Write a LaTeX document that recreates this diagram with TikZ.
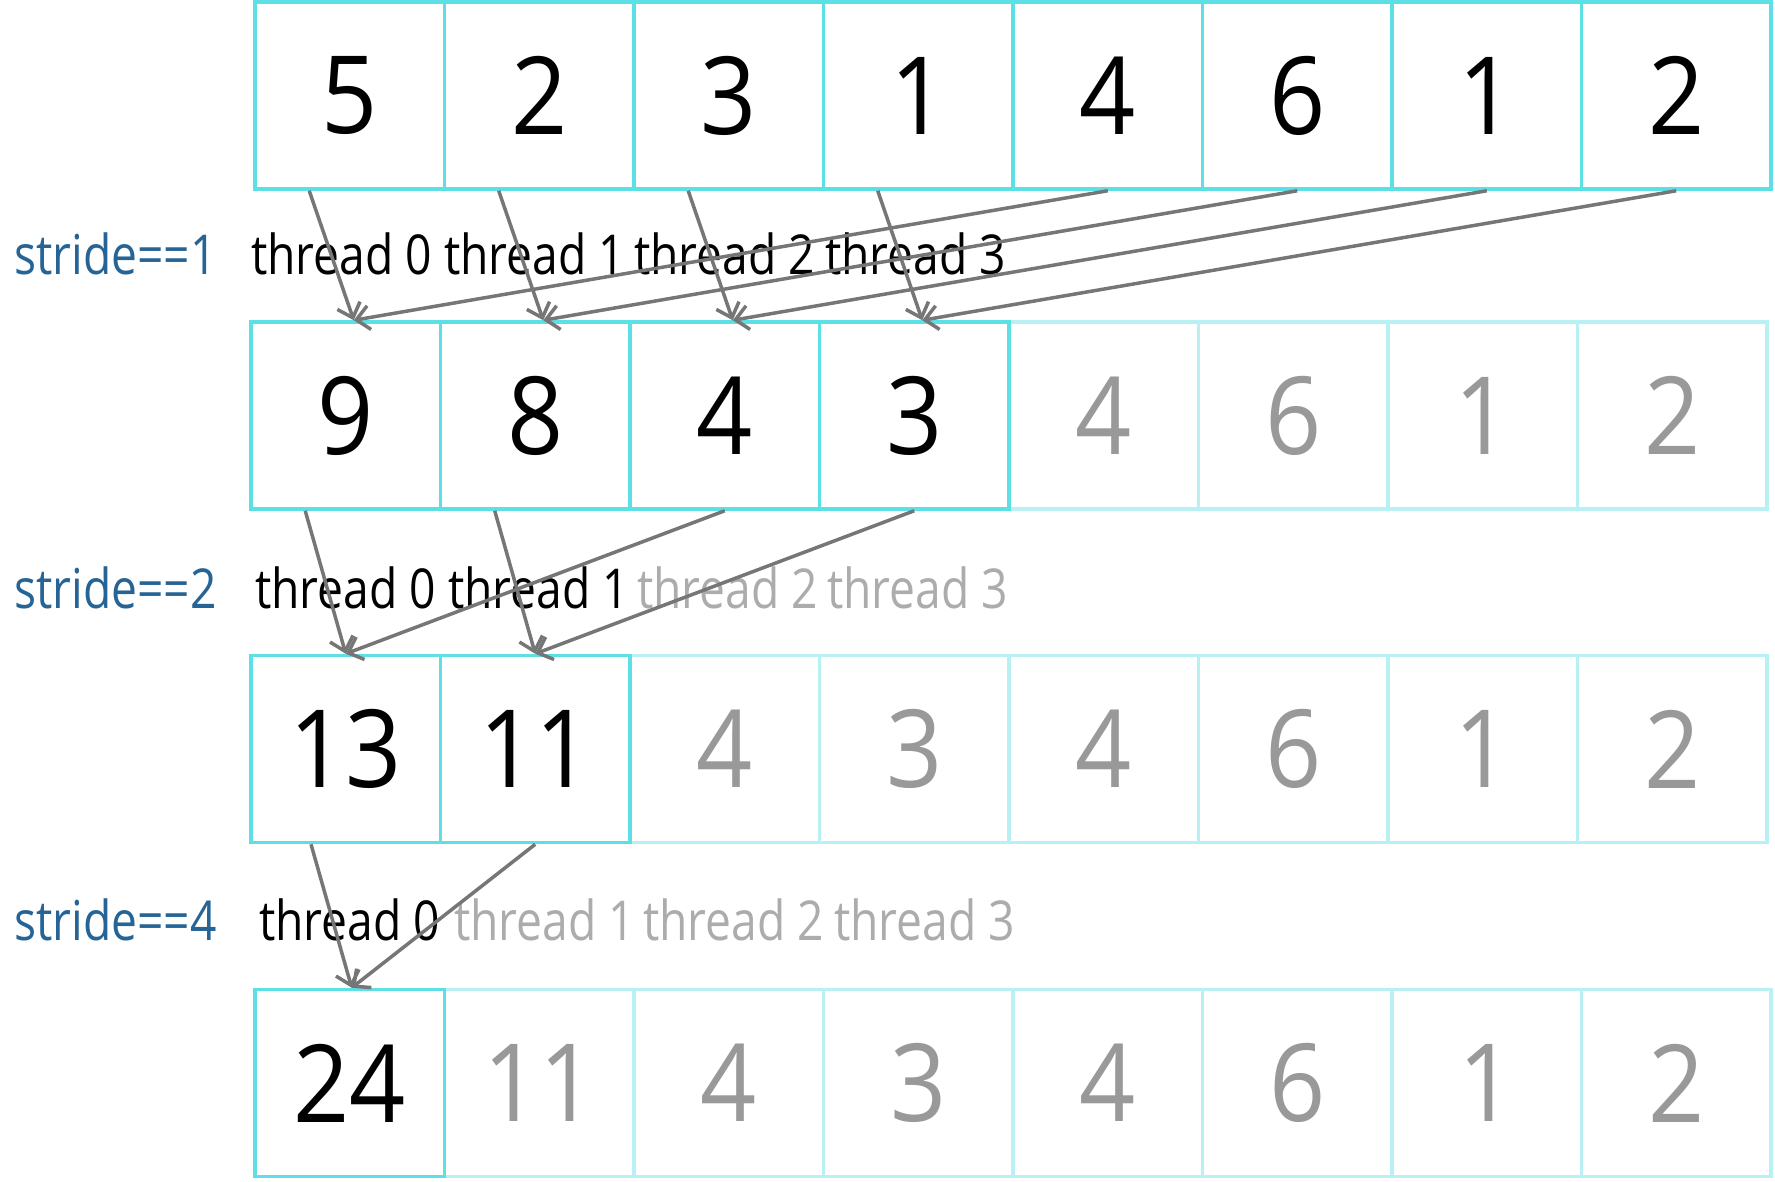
\documentclass[tikz,border=0pt]{standalone}
\usepackage{fontspec}
\setmainfont{Open Sans}
\newfontfamily\labfont[FakeStretch=0.84]{Open Sans}
\newfontfamily\digfont[FakeStretch=0.91]{Open Sans}
\usetikzlibrary{arrows.meta,calc}
\definecolor{cyanA}{RGB}{92,224,230}
\definecolor{cyanB}{RGB}{184,241,243}
\definecolor{strideblue}{RGB}{38,100,150}
\definecolor{arrowgray}{RGB}{118,118,118}
\definecolor{digitgray}{RGB}{153,153,153}
\definecolor{labgray}{RGB}{172,172,172}
\begin{document}
\begin{tikzpicture}[x=1pt,y=-1pt,
  cell/.style={draw, line width=3.5pt, minimum width=189.5pt, minimum height=187pt, inner sep=0pt,
    font=\digfont\fontsize{108}{108}\selectfont},
  on/.style={cell, draw=cyanA, text=black},
  off/.style={cell, draw=cyanB, text=digitgray},
  stridelab/.style={anchor=base west, inner sep=0pt, text=strideblue, font=\labfont\fontsize{55}{55}\selectfont},
  thr/.style={anchor=base west, inner sep=0pt, text=black, font=\labfont\fontsize{55}{55}\selectfont},
  throff/.style={thr, text=labgray},
  link/.style={draw=arrowgray, line width=3.5pt, -{Straight Barb[length=13pt,width=24pt,line width=3.5pt]}}
]
\useasboundingbox (0,0) rectangle (1775,1181);

% row 1
\foreach \v [count=\i from 0] in {5,2,3,1,4,6,1,2}
  \node[on] (a\i) at (349.75+189.5*\i, 95.5) {\v};

% row 2
\foreach \v [count=\i from 4] in {4,6,1,2}
  \node[off] (b\i) at (345.75+189.5*\i, 415.5) {\v};
\foreach \v [count=\i from 0] in {9,8,4,3}
  \node[on] (b\i) at (345.75+189.5*\i, 415.5) {\v};

% row 3
\foreach \v [count=\i from 2] in {4,3,4,6,1,2}
  \node[off] (c\i) at (345.75+189.5*\i, 749) {\v};
\foreach \v [count=\i from 0] in {13,11}
  \node[on] (c\i) at (345.75+189.5*\i, 749) {\v};

% row 4
\foreach \v [count=\i from 1] in {11,4,3,4,6,1,2}
  \node[off] (d\i) at (349.75+189.5*\i, 1083) {\v};
\node[on] (d0) at (349.75, 1083) {24};

% stride labels
\node[stridelab] (s1) at (14, 274) {stride==1};
\node[stridelab] (s2) at (14, 608) {stride==2};
\node[stridelab] (s4) at (14, 940) {stride==4};

% thread labels
\node[thr] (t10) at (251, 274) {thread 0};
\node[thr] (t11) at (444, 274) {thread 1};
\node[thr] (t12) at (634, 274) {thread 2};
\node[thr] (t13) at (825, 274) {thread 3};

\node[thr] (t20) at (255, 608) {thread 0};
\node[thr] (t21) at (448, 608) {thread 1};
\node[throff] (t22) at (637, 608) {thread 2};
\node[throff] (t23) at (827, 608) {thread 3};

\node[thr] (t40) at (259, 940) {thread 0};
\node[throff] (t41) at (454, 940) {thread 1};
\node[throff] (t42) at (643, 940) {thread 2};
\node[throff] (t43) at (834, 940) {thread 3};

% stride 1 arrows
\foreach \i [evaluate=\i as \j using int(\i+4)] in {0,1,2,3} {
  \draw[link] ($(a\i.south west)!0.29!(a\i.south east)$) -- ([xshift=8pt]b\i.north);
  \draw[link] (a\j.south) -- ([xshift=8pt]b\i.north);
}

% stride 2 arrows
\foreach \i [evaluate=\i as \j using int(\i+2)] in {0,1} {
  \draw[link] ($(b\i.south west)!0.29!(b\i.south east)$) -- (c\i.north);
  \draw[link] (b\j.south) -- (c\i.north);
}

% stride 4 arrows
\draw[link] ($(c0.south west)!0.32!(c0.south east)$) -- ([xshift=2pt]d0.north);
\draw[link] (c1.south) -- ([xshift=2pt]d0.north);
\end{tikzpicture}
\end{document}
